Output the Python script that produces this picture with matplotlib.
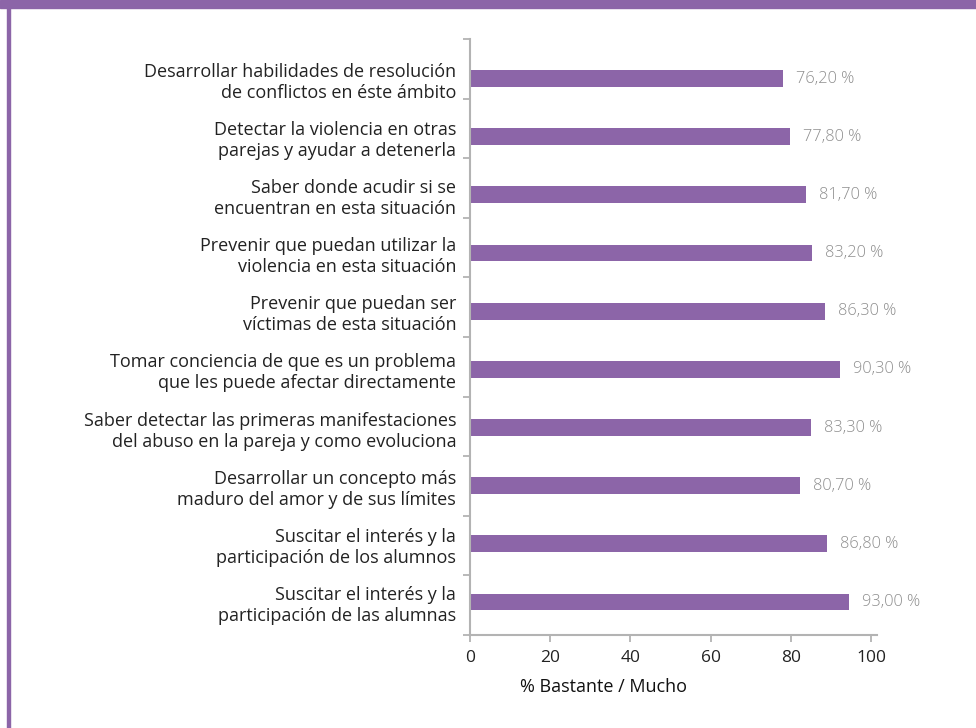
import numpy as np
import matplotlib.pyplot as plt
from matplotlib.patches import Rectangle
from matplotlib.ticker import FixedLocator

plt.rcParams['font.family'] = ['Open Sans', 'DejaVu Sans']

categories = [
    "Desarrollar habilidades de resolución\nde conflictos en éste ámbito",
    "Detectar la violencia en otras\nparejas y ayudar a detenerla",
    "Saber donde acudir si se\nencuentran en esta situación",
    "Prevenir que puedan utilizar la\nviolencia en esta situación",
    "Prevenir que puedan ser\nvíctimas de esta situación",
    "Tomar conciencia de que es un problema\nque les puede afectar directamente",
    "Saber detectar las primeras manifestaciones\ndel abuso en la pareja y como evoluciona",
    "Desarrollar un concepto más\nmaduro del amor y de sus límites",
    "Suscitar el interés y la\nparticipación de los alumnos",
    "Suscitar el interés y la\nparticipación de las alumnas",
]
# bar lengths as drawn in the picture
bar_values = [78.1, 79.8, 83.8, 85.3, 88.5, 92.3, 85.0, 82.3, 89.0, 94.5]
# printed labels
value_labels = ["76,20 %", "77,80 %", "81,70 %", "83,20 %", "86,30 %",
                "90,30 %", "83,30 %", "80,70 %", "86,80 %", "93,00 %"]

purple = '#8c65a8'
grey = '#b3b3b3'

fig = plt.figure(figsize=(9.76, 7.28), dpi=100)
ax = fig.add_axes([0.4816, 0.1277, 0.417, 0.8187])

n = len(categories)
ypos = np.arange(n)
ax.barh(ypos, bar_values, height=0.29, color=purple)
y_top, y_bot = -0.679, n - 0.433
ax.set_ylim(y_bot, y_top)
ax.set_xlim(0, 101.5)

for y, v, lab in zip(ypos, bar_values, value_labels):
    ax.text(v + 3.2, y, lab, va='center', ha='left', fontsize=11.8,
            color='#8e8e8e', fontweight='light')

ax.set_yticks(ypos)
ax.set_yticklabels(categories, fontsize=13, color='#222222', linespacing=1.22)
ax.yaxis.set_minor_locator(FixedLocator(np.linspace(y_top, y_bot, n + 1)))
ax.tick_params(axis='y', which='major', length=0, pad=10)
ax.tick_params(axis='y', which='minor', length=5, width=1.3, color=grey)
for t in ax.get_yticklabels():
    t.set_y(t.get_position()[1])

ax.set_xticks([0, 20, 40, 60, 80, 100])
ax.tick_params(axis='x', length=5, width=1.3, color=grey, labelsize=12.5,
               labelcolor='#222222', pad=6)
ax.set_xlabel("% Bastante / Mucho", fontsize=13, color='#111111')
ax.xaxis.set_label_coords(0.327, -0.072)

for s in ['top', 'right']:
    ax.spines[s].set_visible(False)
for s in ['left', 'bottom']:
    ax.spines[s].set_color(grey)
    ax.spines[s].set_linewidth(1.5)

# frame decoration
fig.patches.append(Rectangle((0, 1 - 8 / 728), 1, 8 / 728, transform=fig.transFigure,
                             color=purple, zorder=0))
fig.patches.append(Rectangle((7 / 976, 0), 3 / 976, 1, transform=fig.transFigure,
                             color=purple, zorder=0))

fig.savefig('out.png', dpi=100)
